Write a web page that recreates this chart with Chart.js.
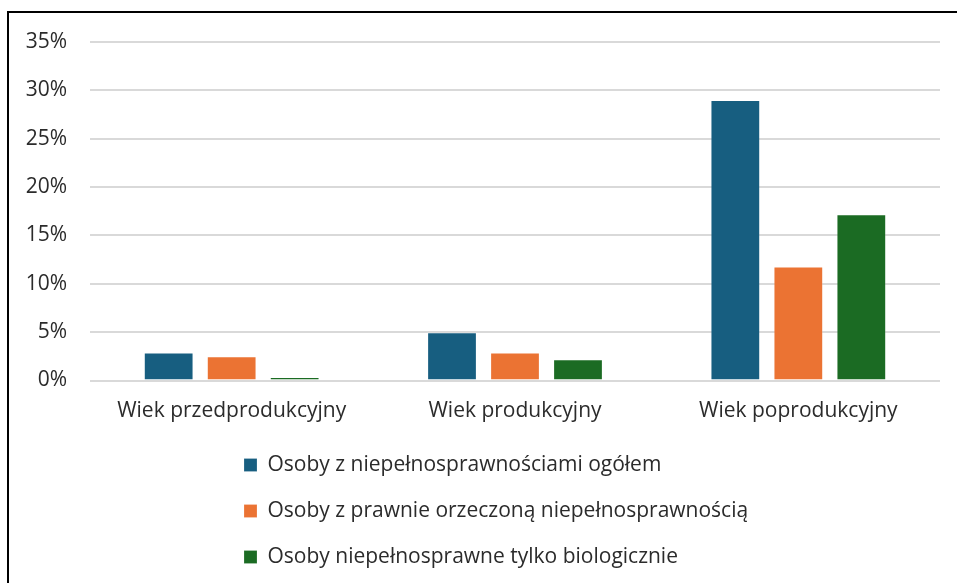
<!DOCTYPE html>
<html>
<head>
<meta charset="utf-8">
<script src="https://cdn.jsdelivr.net/npm/chart.js@4.4.1/dist/chart.umd.min.js"></script>
<style>
  html, body { margin: 0; padding: 0; background: #fff; }
  #wrap { position: relative; width: 957px; height: 583px; }
</style>
</head>
<body>
<div id="wrap"><canvas id="c" width="957" height="583"></canvas></div>
<script>
const categories = ['Wiek przedprodukcyjny', 'Wiek produkcyjny', 'Wiek poprodukcyjny'];
const seriesNames = [
  'Osoby z niepełnosprawnościami ogółem',
  'Osoby z prawnie orzeczoną niepełnosprawnością',
  'Osoby niepełnosprawne tylko biologicznie'
];
const totalValues = [2.9, 5.0, 29.0];
const legalValues = [2.5, 2.9, 11.8];
const biologicalValues = [0.35, 2.2, 17.2];
const yTicks = [0, 5, 10, 15, 20, 25, 30, 35];

const colors = ['#175e80', '#eb7333', '#1b6b23'];
const textColor = '#2b2b2b';
const FONT = '"Open Sans", "Noto Sans", sans-serif';

const frame = {
  id: 'frame',
  beforeDraw(chart) {
    const lg = chart.legend;
    if (lg && lg.lineWidths) {
      const pad = lg.options.labels.padding;
      const target = 244;
      const lw = lg.left + pad + lg.right - 2 * target;
      lg.lineWidths = lg.lineWidths.map(() => lw);
    }
  },
  afterDraw(chart) {
    const ctx = chart.ctx;
    ctx.save();
    ctx.fillStyle = '#000';
    ctx.fillRect(7, 11, 950, 2);
    ctx.fillRect(7, 11, 2, 572);
    ctx.restore();
  }
};

new Chart(document.getElementById('c'), {
  type: 'bar',
  data: {
    labels: categories,
    datasets: [
      { label: seriesNames[0], data: totalValues, backgroundColor: colors[0], borderColor: 'rgba(255,255,255,0.2)', borderWidth: 1 },
      { label: seriesNames[1], data: legalValues, backgroundColor: colors[1], borderColor: 'rgba(255,255,255,0.2)', borderWidth: 1 },
      { label: seriesNames[2], data: biologicalValues, backgroundColor: colors[2], borderColor: 'rgba(255,255,255,0.2)', borderWidth: 1 }
    ]
  },
  options: {
    responsive: false,
    animation: false,
    devicePixelRatio: 1,
    layout: { padding: { left: 0, right: 17, top: 42, bottom: 5.5 } },
    datasets: { bar: { categoryPercentage: 0.667, barPercentage: 0.79 } },
    scales: {
      x: {
        grid: { display: false, drawTicks: false },
        border: { display: false },
        ticks: { color: textColor, font: { family: FONT, size: 21 }, padding: 18, maxRotation: 0 },
        afterFit(scale) { scale.height = 49; }
      },
      y: {
        min: 0, max: 35,
        afterBuildTicks(scale) { scale.ticks = yTicks.map(v => ({ value: v })); },
        grid: { color: '#d9d9d9', lineWidth: 2, drawTicks: false },
        border: { display: false },
        ticks: { color: textColor, font: { family: FONT, size: 21 }, padding: 23, callback: v => v + '%' },
        afterFit(scale) { scale.width = 90; }
      }
    },
    plugins: {
      tooltip: { enabled: false },
      legend: {
        position: 'bottom',
        fullSize: false,
        labels: {
          color: textColor,
          font: { family: FONT, size: 21 },
          boxWidth: 13,
          boxHeight: 13,
          padding: 25
        }
      }
    }
  },
  plugins: [frame]
});
</script>
</body>
</html>
